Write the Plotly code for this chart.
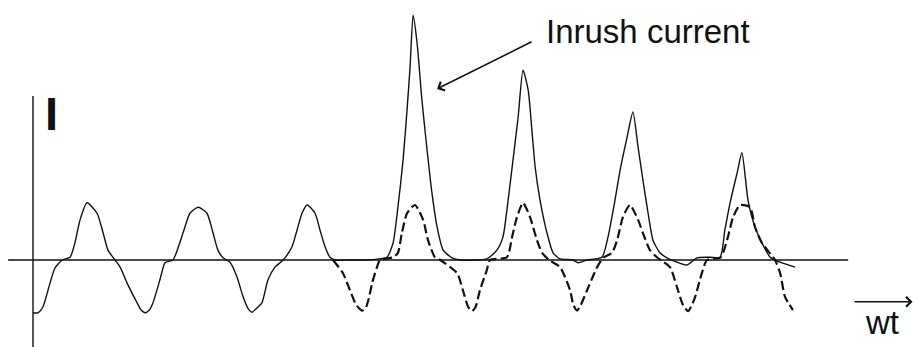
import plotly.graph_objects as go

# ωt in degrees, current in per-unit of steady-state peak
solid_wt = [0, 16, 33, 56, 72, 96, 122, 138, 155, 178, 211, 231, 247, 270, 287, 310, 343, 355, 369, 383,
            395, 418, 435, 461, 494, 517, 544, 573, 593, 609, 626, 649, 672, 692, 708, 721, 736,
            754, 774, 797, 824, 853, 870, 886, 903, 929, 945, 962, 978, 995,
            1040, 1100, 1140, 1166, 1186, 1202, 1219, 1232, 1242, 1252, 1265, 1281, 1298, 1314, 1331, 1351, 1380, 1407,
            1450, 1495, 1528, 1548, 1565, 1581, 1598, 1614, 1631, 1644, 1654, 1670, 1693, 1713, 1736,
            1779, 1795, 1825, 1874, 1894, 1917, 1934, 1957, 1976, 1993, 2009, 2026, 2042, 2065, 2088,
            2154, 2187, 2230, 2263, 2279, 2296, 2319, 2335, 2355, 2378, 2401, 2428, 2461, 2510]
solid_i = [-0.96, -0.96, -0.85, -0.42, -0.15, 0.0, 0.05, 0.31, 0.73, 1.04, 0.85, 0.49, 0.18, 0.0, -0.13, -0.42, -0.78, -0.9, -0.96, -0.91,
           -0.78, -0.36, -0.05, 0.0, 0.49, 0.85, 0.96, 0.85, 0.49, 0.18, 0.04, -0.04, -0.31, -0.67, -0.88, -0.95, -0.88,
           -0.78, -0.36, -0.13, 0.0, 0.24, 0.55, 0.85, 1.0, 0.85, 0.55, 0.24, 0.05, 0.0,
           0.0, 0.0, 0.02, 0.05, 0.31, 0.96, 1.82, 2.73, 3.51, 4.45, 3.95, 2.91, 2.0, 1.22, 0.6, 0.18, 0.04, 0.0,
           0.0, 0.02, 0.18, 0.42, 1.09, 1.82, 2.6, 3.45, 3.09, 2.31, 1.69, 1.09, 0.49, 0.13, 0.02,
           0.0, -0.05, 0.0, 0.05, 0.42, 1.09, 1.64, 2.24, 2.69, 2.05, 1.45, 0.85, 0.36, 0.13, 0.04,
           -0.09, 0.04, 0.05, 0.05, 0.55, 1.04, 1.58, 1.95, 1.09, 0.6, 0.31, 0.05, -0.04, -0.13]

dashed_wt = [988, 1021, 1044, 1061, 1072, 1084, 1096, 1106, 1117, 1133, 1143, 1186, 1202, 1215, 1232, 1258, 1285, 1301, 1324, 1341,
             1397, 1416, 1433, 1446, 1458, 1472, 1495, 1505, 1561, 1578, 1594, 1614, 1637, 1660, 1677, 1700,
             1736, 1769, 1780, 1792, 1804, 1825, 1858, 1878, 1907, 1924, 1943, 1966, 1993, 2009, 2032, 2055,
             2098, 2121, 2141, 2158, 2170, 2181, 2203, 2220, 2263, 2273, 2289, 2306, 2329, 2362, 2378, 2401, 2444,
             2461, 2477, 2503]
dashed_i = [0.0, -0.24, -0.55, -0.78, -0.87, -0.92, -0.87, -0.7, -0.42, -0.13, 0.0, 0.05, 0.13, 0.49, 0.85, 1.0, 0.73, 0.36, 0.05, 0.0,
            -0.24, -0.55, -0.85, -0.93, -0.85, -0.55, -0.18, 0.0, 0.05, 0.42, 0.78, 1.04, 0.78, 0.36, 0.13, 0.0,
            -0.13, -0.55, -0.82, -0.92, -0.82, -0.55, -0.13, 0.04, 0.13, 0.36, 0.78, 1.0, 0.73, 0.49, 0.18, 0.05,
            -0.13, -0.49, -0.82, -0.93, -0.82, -0.67, -0.24, 0.0, 0.04, 0.13, 0.42, 0.78, 1.0, 0.96, 0.6, 0.31, 0.0,
            -0.24, -0.67, -0.91]

axis_wt = [-82, 2685]      # horizontal reference line extent
axis_i = [-1.6, 2.98]      # vertical axis extent

FONT = "Liberation Sans, Arial, sans-serif"
INK = "#111111"

fig = go.Figure()
fig.add_trace(go.Scatter(x=solid_wt, y=solid_i, mode="lines",
                         line=dict(color=INK, width=1.4, shape="spline", smoothing=0.6),
                         hoverinfo="skip", showlegend=False))
fig.add_trace(go.Scatter(x=dashed_wt, y=dashed_i, mode="lines",
                         line=dict(color=INK, width=2.2, dash="9px,4px", shape="spline", smoothing=0.6),
                         hoverinfo="skip", showlegend=False))

fig.add_shape(type="line", x0=axis_wt[0], x1=axis_wt[1], y0=0, y1=0, line=dict(color=INK, width=1.6))
fig.add_shape(type="line", x0=0, x1=0, y0=axis_i[0], y1=axis_i[1], line=dict(color=INK, width=1.4))

fig.add_annotation(x=61, y=2.67, text="<b>I</b>", showarrow=False,
                   font=dict(family=FONT, size=47, color=INK), xanchor="center", yanchor="middle")
fig.add_annotation(x=1683, y=4.16, text="Inrush current", showarrow=False,
                   font=dict(family=FONT, size=33, color=INK), xanchor="left", yanchor="middle")
fig.add_annotation(x=1331, y=3.11, ax=1647, ay=3.98, axref="x", ayref="y", text="",
                   showarrow=True, arrowhead=4, arrowsize=1.2, arrowwidth=1.6, arrowcolor=INK)
fig.add_annotation(x=2897, y=-0.76, ax=2701, ay=-0.76, axref="x", ayref="y", text="",
                   showarrow=True, arrowhead=4, arrowsize=1.2, arrowwidth=1.6, arrowcolor=INK)
fig.add_annotation(x=2797, y=-1.13, text="wt", showarrow=False,
                   font=dict(family=FONT, size=33, color=INK), xanchor="center", yanchor="middle")

fig.update_layout(width=913, height=347, autosize=False,
                  margin=dict(l=0, r=0, t=0, b=0),
                  paper_bgcolor="white", plot_bgcolor="white",
                  xaxis=dict(range=[-108.7, 2898.5], visible=False, fixedrange=True),
                  yaxis=dict(range=[-1.582, 4.727], visible=False, fixedrange=True))

fig.write_html("out.html")
